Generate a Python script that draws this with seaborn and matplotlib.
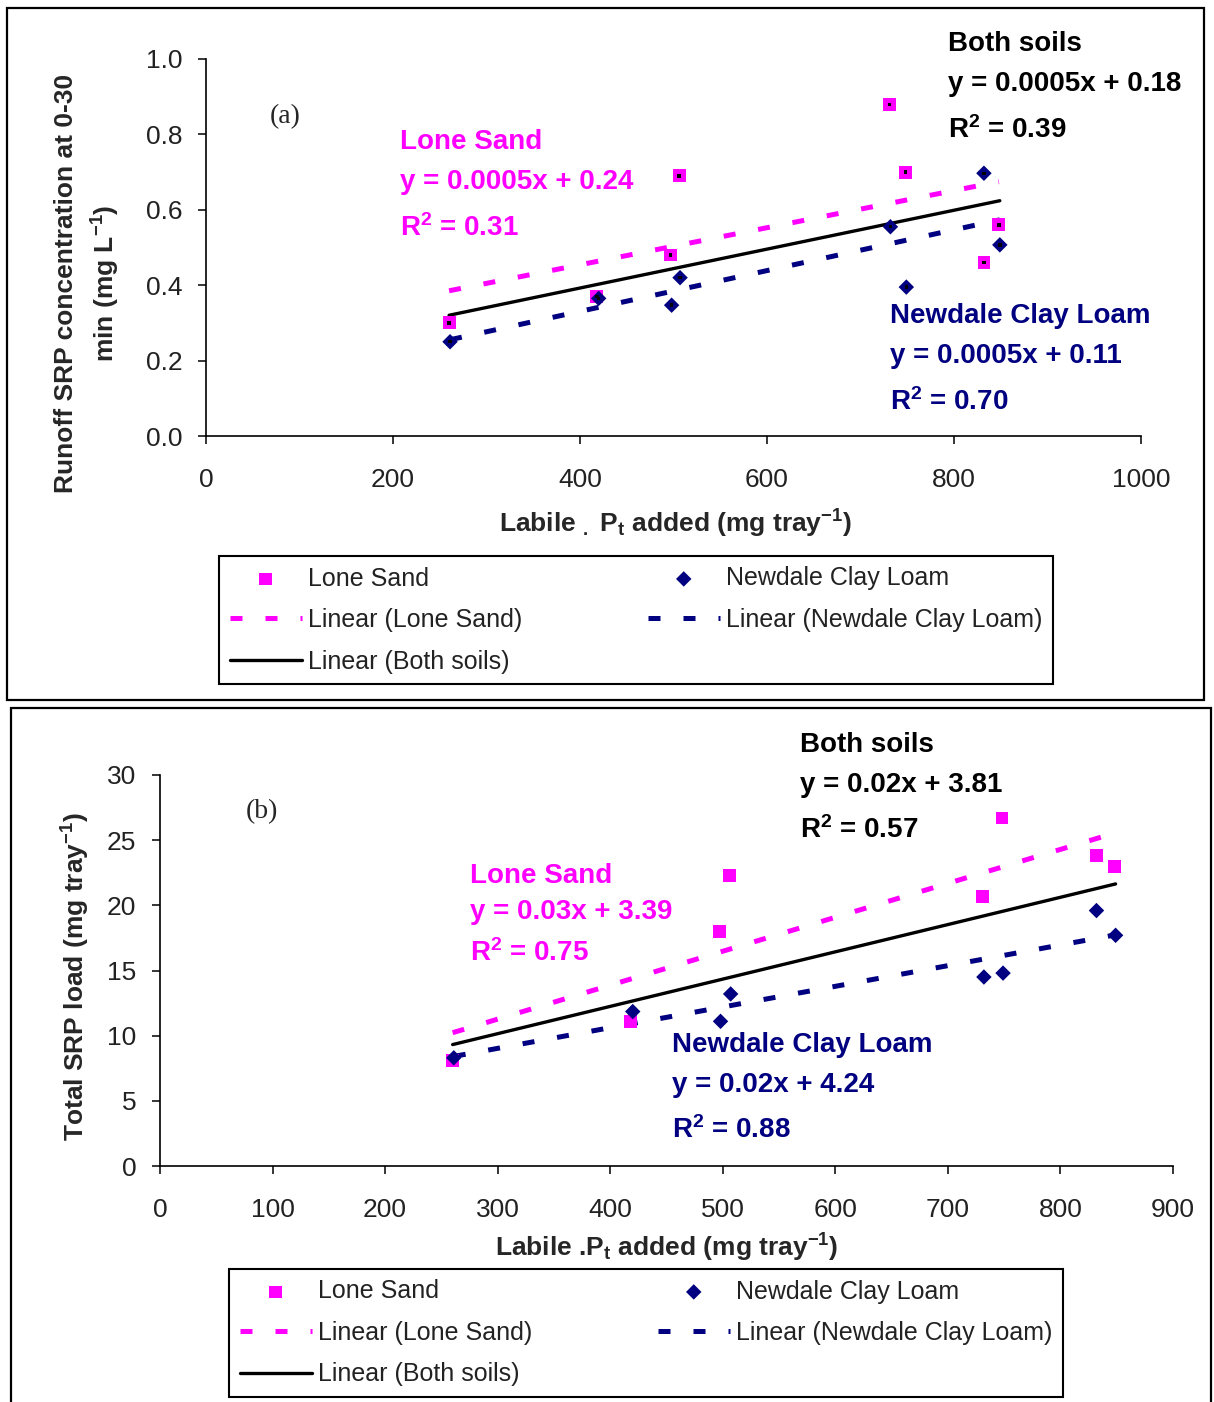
import numpy as np
import pandas as pd
import matplotlib
matplotlib.use("Agg")
import matplotlib.pyplot as plt
from matplotlib.patches import Rectangle
import seaborn as sns

# Labile P added to each tray (mg tray-1)
p_added_lone = [260, 418, 497, 506, 731, 748, 832, 848]
p_added_newdale = [261, 420, 498, 507, 732, 749, 832, 849]

# (a) runoff SRP concentration at 0-30 min (mg L-1)
conc_lone = [0.30, 0.37, 0.48, 0.69, 0.88, 0.70, 0.46, 0.56]
conc_newdale = [0.25, 0.365, 0.347, 0.42, 0.555, 0.395, 0.697, 0.507]

# (b) total SRP load (mg tray-1)
load_lone = [8.1, 11.1, 18.0, 22.3, 20.7, 26.7, 23.8, 23.0]
load_newdale = [8.3, 11.85, 11.1, 13.2, 14.5, 14.8, 19.6, 17.7]

soils = ["Lone Sand", "Newdale Clay Loam"]

# trend-line equations printed on each panel
eq_a = {"Lone Sand": ("y = 0.0005x + 0.24", "0.31"),
        "Newdale Clay Loam": ("y = 0.0005x + 0.11", "0.70"),
        "Both soils": ("y = 0.0005x + 0.18", "0.39")}
eq_b = {"Lone Sand": ("y = 0.03x + 3.39", "0.75"),
        "Newdale Clay Loam": ("y = 0.02x + 4.24", "0.88"),
        "Both soils": ("y = 0.02x + 3.81", "0.57")}

xticks_a = [0, 200, 400, 600, 800, 1000]
yticks_a = [0.0, 0.2, 0.4, 0.6, 0.8, 1.0]
yticklabels_a = ["0.0", "0.2", "0.4", "0.6", "0.8", "1.0"]
xticks_b = [0, 100, 200, 300, 400, 500, 600, 700, 800, 900]
yticks_b = [0, 5, 10, 15, 20, 25, 30]

PINK = "#FF00FF"
NAVY = "#000080"

sns.set_style("ticks")
plt.rcParams["font.family"] = ["Liberation Sans", "DejaVu Sans"]
plt.rcParams["mathtext.fontset"] = "custom"
plt.rcParams["mathtext.rm"] = "Liberation Sans"
plt.rcParams["mathtext.bf"] = "Liberation Sans:bold"
plt.rcParams["mathtext.default"] = "bf"

W, H = 1214, 1402
fig = plt.figure(figsize=(W / 100, H / 100), dpi=100)


def fxy(px, py):
    return px / W, 1 - py / H


def axes_rect(left, top, right, bottom):
    return [left / W, 1 - bottom / H, (right - left) / W, (bottom - top) / H]


def draw_panel(ax, y_lone, y_newdale, centre_dots):
    df = pd.DataFrame({
        "x": p_added_lone + p_added_newdale,
        "y": y_lone + y_newdale,
        "soil": [soils[0]] * len(p_added_lone) + [soils[1]] * len(p_added_newdale),
    })
    lone = df[df.soil == soils[0]]
    newd = df[df.soil == soils[1]]
    dash_kw = dict(lw=3.6, dashes=(2.4, 4.6), dash_capstyle="butt")
    sns.scatterplot(data=lone, x="x", y="y", marker="s", s=85, color=PINK,
                    edgecolor="none", label="Lone Sand", ax=ax, zorder=3)
    sns.regplot(data=lone, x="x", y="y", scatter=False, ci=None, ax=ax,
                label="Linear (Lone Sand)", line_kws=dict(color=PINK, **dash_kw))
    sns.regplot(data=df, x="x", y="y", scatter=False, ci=None, ax=ax,
                label="Linear (Both soils)", line_kws=dict(color="black", lw=2.4))
    sns.scatterplot(data=newd, x="x", y="y", marker="D", s=62, color=NAVY,
                    edgecolor="none", label="Newdale Clay Loam", ax=ax, zorder=3)
    sns.regplot(data=newd, x="x", y="y", scatter=False, ci=None, ax=ax,
                label="Linear (Newdale Clay Loam)", line_kws=dict(color=NAVY, **dash_kw))
    if centre_dots:
        sns.scatterplot(data=df, x="x", y="y", marker="s", s=6, color="black",
                        edgecolor="none", legend=False, ax=ax, zorder=4)
    ax.set_xlabel("")
    ax.set_ylabel("")
    sns.despine(ax=ax)
    for side in ("left", "bottom"):
        ax.spines[side].set_linewidth(1.2)
        ax.spines[side].set_color("black")
    ax.tick_params(direction="out", length=6, width=1.1, color="black",
                   labelsize=19, labelcolor="#222222")
    ax.tick_params(axis="x", pad=17)
    ax.tick_params(axis="y", pad=11)
    h, l = ax.get_legend_handles_labels()
    order = ["Lone Sand", "Linear (Lone Sand)", "Linear (Both soils)",
             "Newdale Clay Loam", "Linear (Newdale Clay Loam)"]
    hm = dict(zip(l, h))
    return [hm[k] for k in order], order


def legend(ax, handles, labels, left, top):
    leg = ax.legend(handles, labels, ncol=2, loc="upper left",
                    bbox_to_anchor=fxy(left, top), bbox_transform=fig.transFigure,
                    borderaxespad=0, fontsize=18, handlelength=2.9,
                    handletextpad=0.25, labelspacing=0.7, columnspacing=5.0,
                    borderpad=0.42, frameon=True, fancybox=False, framealpha=1)
    leg.get_frame().set_edgecolor("black")
    leg.get_frame().set_linewidth(1.5)
    for t in leg.get_texts():
        t.set_color("#222222")


def eq_block(x, ys, name, eq, r2, color):
    fig.text(*fxy(x, ys[0]), name, color=color, fontsize=20, fontweight="bold", va="center")
    fig.text(*fxy(x, ys[1]), eq, color=color, fontsize=20, fontweight="bold", va="center")
    fig.text(*fxy(x, ys[2]), "R$^{2}$ = " + r2, color=color, fontsize=20, fontweight="bold", va="center")


# ---- panel (a) ----
ax_a = fig.add_axes(axes_rect(206, 59, 1141, 436))
ha, la = draw_panel(ax_a, conc_lone, conc_newdale, centre_dots=True)
ax_a.set_xlim(0, 1000)
ax_a.set_ylim(0, 1.0)
ax_a.set_xticks(xticks_a, [str(v) for v in xticks_a])
ax_a.set_yticks(yticks_a, yticklabels_a)
legend(ax_a, ha, la, 219, 556)

fig.text(*fxy(88, 283), "Runoff SRP concentration at 0-30\nmin (mg L$^{-1}$)",
         rotation=90, ha="center", va="center", fontsize=19, fontweight="bold",
         multialignment="center", linespacing=1.5)
fig.text(*fxy(676, 524), "Labile $_{.}$ P$_{t}$ added (mg tray$^{-1}$)",
         ha="center", va="center", fontsize=19, fontweight="bold")
fig.text(*fxy(270, 117), "(a)", family="Liberation Serif", fontsize=20, va="center")

eq_block(400, (142, 182, 228), "Lone Sand", *eq_a["Lone Sand"], PINK)
eq_block(948, (44, 84, 130), "Both soils", *eq_a["Both soils"], "black")
eq_block(890, (316, 356, 402), "Newdale Clay Loam", *eq_a["Newdale Clay Loam"], NAVY)

# ---- panel (b) ----
ax_b = fig.add_axes(axes_rect(160, 775, 1173, 1166))
hb, lb = draw_panel(ax_b, load_lone, load_newdale, centre_dots=False)
ax_b.set_xlim(0, 900)
ax_b.set_ylim(0, 30)
ax_b.set_xticks(xticks_b, [str(v) for v in xticks_b])
ax_b.set_yticks(yticks_b, [str(v) for v in yticks_b])
legend(ax_b, hb, lb, 229, 1269)

fig.text(*fxy(76, 977), "Total SRP load (mg tray$^{-1}$)",
         rotation=90, ha="center", va="center", fontsize=19, fontweight="bold")
fig.text(*fxy(667, 1248), "Labile .P$_{t}$ added (mg tray$^{-1}$)",
         ha="center", va="center", fontsize=19, fontweight="bold")
fig.text(*fxy(246, 812), "(b)", family="Liberation Serif", fontsize=20, va="center")

eq_block(800, (745, 785, 830), "Both soils", *eq_b["Both soils"], "black")
eq_block(470, (876, 912, 953), "Lone Sand", *eq_b["Lone Sand"], PINK)
eq_block(672, (1045, 1085, 1130), "Newdale Clay Loam", *eq_b["Newdale Clay Loam"], NAVY)

# panel frames
fig.add_artist(Rectangle(fxy(7, 700), 1197 / W, 692 / H, transform=fig.transFigure,
                         fill=False, lw=1.6, edgecolor="black"))
fig.add_artist(Rectangle(fxy(11, 1420), 1200 / W, 712 / H, transform=fig.transFigure,
                         fill=False, lw=1.6, edgecolor="black"))

fig.savefig("out.png", dpi=100)
